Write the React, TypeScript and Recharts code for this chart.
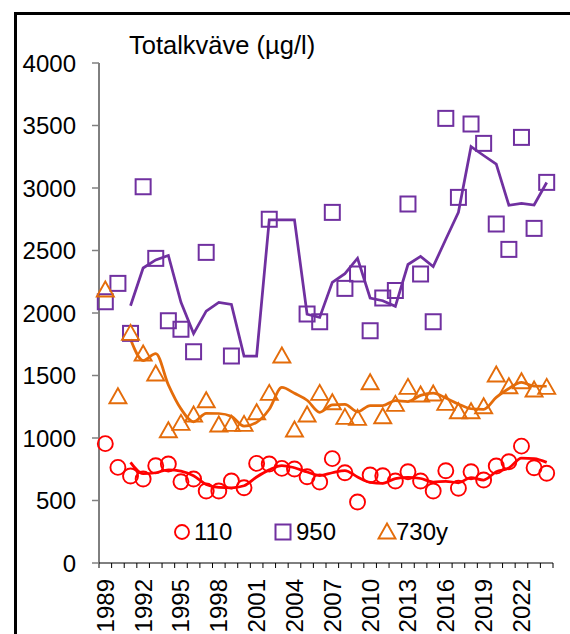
import React from 'react';
import { ComposedChart, Line, XAxis, YAxis, Legend } from 'recharts';

const years = [
  1989, 1990, 1991, 1992, 1993, 1994, 1995, 1996, 1997, 1998, 1999, 2000,
  2001, 2002, 2003, 2004, 2005, 2006, 2007, 2008, 2009, 2010, 2011, 2012,
  2013, 2014, 2015, 2016, 2017, 2018, 2019, 2020, 2021, 2022, 2023, 2024,
];

const site110 = [
  955, 765, 696, 672, 778, 792, 650, 672, 576, 576, 656, 602,
  797, 792, 757, 752, 690, 648, 835, 722, 488, 704, 698, 656,
  730, 656, 576, 738, 598, 730, 664, 776, 810, 935, 762, 718,
];

const site950 = [
  2090, 2237, 1837, 3010, 2437, 1938, 1870, 1690, 2485, null, 1656, null,
  null, 2750, null, null, 1992, 1930, 2805, 2197, 2312, 1858, 2120, 2180,
  2872, 2312, 1930, 3557, 2925, 3512, 3357, 2712, 2509, 3405, 2677, 3045,
];

const site730y = [
  2184, 1330, 1837, 1672, 1512, 1058, 1117, 1184, 1298, 1104, 1109, 1109,
  1202, 1357, 1656, 1064, 1184, 1357, 1282, 1165, 1157, 1442, 1170, 1269,
  1405, 1344, 1352, 1277, 1210, 1210, 1250, 1504, 1410, 1450, 1384, 1405,
];

const trend110 = [
  null, null, 805, 715, 722, 746, 735, 698, 628, 605, 602, 618,
  688, 745, 780, 762, 728, 700, 722, 740, 688, 645, 638, 675,
  686, 676, 648, 654, 642, 683, 664, 730, 760, 839, 835, 805,
];

const trend950 = [
  null, null, 2058, 2360, 2425, 2460, 2085, 1835, 2015, 2085, 2068, 1656,
  1656, 2746, 2746, 2746, 1990, 1965, 2245, 2315, 2438, 2120, 2098, 2053,
  2388, 2453, 2371, 2590, 2805, 3331, 3260, 3191, 2862, 2876, 2864, 3044,
];

const trend730y = [
  null, null, 1790, 1620, 1675, 1425, 1233, 1130, 1198, 1196, 1173, 1095,
  1125, 1230, 1405, 1358, 1302, 1206, 1265, 1270, 1210, 1260, 1260, 1299,
  1292, 1341, 1360, 1320, 1272, 1234, 1230, 1325, 1396, 1446, 1415, 1414,
];

const yTicks = [0, 500, 1000, 1500, 2000, 2500, 3000, 3500, 4000];
const xLabelYears = [1989, 1992, 1995, 1998, 2001, 2004, 2007, 2010, 2013, 2016, 2019, 2022];
const xBoundaries = [...years.map((y) => y - 0.5), 2024.5];

const seriesNames = ['110', '950', '730y'];
const RED = '#FF0000';
const PURPLE = '#7030A0';
const ORANGE = '#E46C0A';

const data = years.map((year, i) => ({
  year,
  s110: site110[i],
  s950: site950[i],
  s730y: site730y[i],
  t110: trend110[i],
  t950: trend950[i],
  t730y: trend730y[i],
}));

const FONT = '"Liberation Sans", Arial, sans-serif';

const circleDot = (p: any) => {
  if (p.value == null || p.cy == null) return <g key={p.key ?? p.index} />;
  return <circle key={p.key ?? p.index} cx={p.cx} cy={p.cy} r={7.5} fill="none" stroke={RED} strokeWidth={1.9} />;
};
const squareDot = (p: any) => {
  if (p.value == null || p.cy == null) return <g key={p.key ?? p.index} />;
  return <rect key={p.key ?? p.index} x={p.cx - 7.5} y={p.cy - 7.5} width={15} height={15} fill="none" stroke={PURPLE} strokeWidth={2} />;
};
const triDot = (p: any) => {
  if (p.value == null || p.cy == null) return <g key={p.key ?? p.index} />;
  const { cx, cy } = p;
  return (
    <polygon
      key={p.key ?? p.index}
      points={`${cx},${cy - 8.5} ${cx - 8.5},${cy + 6.5} ${cx + 8.5},${cy + 6.5}`}
      fill="none"
      stroke={ORANGE}
      strokeWidth={1.9}
    />
  );
};

const XTick = (props: any) => {
  const { x, y, payload } = props;
  const year = Math.round(payload.value + 0.5);
  if (!xLabelYears.includes(year)) return <g />;
  const cx = x + 6.3;
  return (
    <text
      x={cx}
      y={y}
      dy="0.35em"
      textAnchor="end"
      fontSize={24}
      fill="#000"
      fontFamily={FONT}
      transform={`rotate(-90, ${cx}, ${y})`}
    >
      {year}
    </text>
  );
};

const LegendContent = () => {
  const itemStyle: React.CSSProperties = {
    position: 'absolute',
    top: 0,
    height: 24,
    lineHeight: '24px',
    fontSize: 24,
    color: '#000',
    fontFamily: FONT,
    whiteSpace: 'nowrap',
  };
  return (
    <div style={{ position: 'relative', width: 570, height: 24 }}>
      <div style={{ ...itemStyle, left: 173 }}>
        <svg width={18} height={24} style={{ position: 'absolute', left: 0, top: 0 }}>
          <circle cx={9} cy={12} r={7} fill="none" stroke={RED} strokeWidth={1.9} />
        </svg>
        <span style={{ position: 'absolute', left: 21 }}>{seriesNames[0]}</span>
      </div>
      <div style={{ ...itemStyle, left: 274 }}>
        <svg width={18} height={24} style={{ position: 'absolute', left: 0, top: 0 }}>
          <rect x={1.5} y={4.5} width={15} height={15} fill="none" stroke={PURPLE} strokeWidth={2} />
        </svg>
        <span style={{ position: 'absolute', left: 22 }}>{seriesNames[1]}</span>
      </div>
      <div style={{ ...itemStyle, left: 377 }}>
        <svg width={20} height={24} style={{ position: 'absolute', left: 0, top: 0 }}>
          <polygon points="10,3.5 1.5,18.5 18.5,18.5" fill="none" stroke={ORANGE} strokeWidth={1.9} />
        </svg>
        <span style={{ position: 'absolute', left: 19 }}>{seriesNames[2]}</span>
      </div>
    </div>
  );
};

export default function App() {
  return (
    <div
      style={{
        position: 'fixed',
        left: 0,
        top: 0,
        width: 570,
        height: 634,
        overflow: 'hidden',
        background: '#fff',
        fontFamily: FONT,
      }}
    >
      <div
        style={{
          position: 'absolute',
          left: 14,
          top: 12,
          width: 640,
          height: 720,
          border: '3px solid #000',
        }}
      />
      <div
        style={{
          position: 'absolute',
          left: 129,
          top: 33,
          fontSize: 25.5,
          lineHeight: '25.5px',
          color: '#000',
          whiteSpace: 'nowrap',
        }}
      >
        Totalkväve (µg/l)
      </div>
      <div style={{ position: 'absolute', left: 0, top: 0 }}>
        <ComposedChart
          width={570}
          height={634}
          data={data}
          margin={{ top: 63, right: 17, bottom: 0, left: 0 }}
        >
          <XAxis
            dataKey="year"
            type="number"
            domain={[1988.5, 2024.5]}
            ticks={xBoundaries}
            interval={0}
            height={71}
            tickSize={5}
            tickMargin={11}
            tick={<XTick />}
            tickLine={{ stroke: '#000', strokeWidth: 1 }}
            axisLine={{ stroke: '#000', strokeWidth: 1 }}
            allowDecimals
          />
          <YAxis
            type="number"
            domain={[0, 4000]}
            ticks={yTicks}
            interval={0}
            width={99}
            tickSize={7}
            tickMargin={16}
            tick={{ fontSize: 24, fill: '#000', fontFamily: FONT }}
            tickLine={{ stroke: '#808080', strokeWidth: 1.5 }}
            axisLine={{ stroke: '#000', strokeWidth: 1 }}
          />
          <Legend
            verticalAlign="middle"
            align="center"
            layout="horizontal"
            content={<LegendContent />}
            wrapperStyle={{ position: 'absolute', left: 0, top: 520, width: 570, height: 24 }}
          />
          <Line dataKey="s110" stroke="none" dot={circleDot} activeDot={false} isAnimationActive={false} legendType="none" />
          <Line dataKey="s950" stroke="none" dot={squareDot} activeDot={false} isAnimationActive={false} legendType="none" />
          <Line dataKey="s730y" stroke="none" dot={triDot} activeDot={false} isAnimationActive={false} legendType="none" />
          <Line dataKey="t730y" type="monotone" stroke={ORANGE} strokeWidth={2.75} dot={false} activeDot={false} isAnimationActive={false} legendType="none" />
          <Line dataKey="t110" type="monotone" stroke={RED} strokeWidth={2.75} dot={false} activeDot={false} isAnimationActive={false} legendType="none" />
          <Line dataKey="t950" type="linear" stroke={PURPLE} strokeWidth={2.75} dot={false} activeDot={false} isAnimationActive={false} legendType="none" />
        </ComposedChart>
      </div>
    </div>
  );
}
